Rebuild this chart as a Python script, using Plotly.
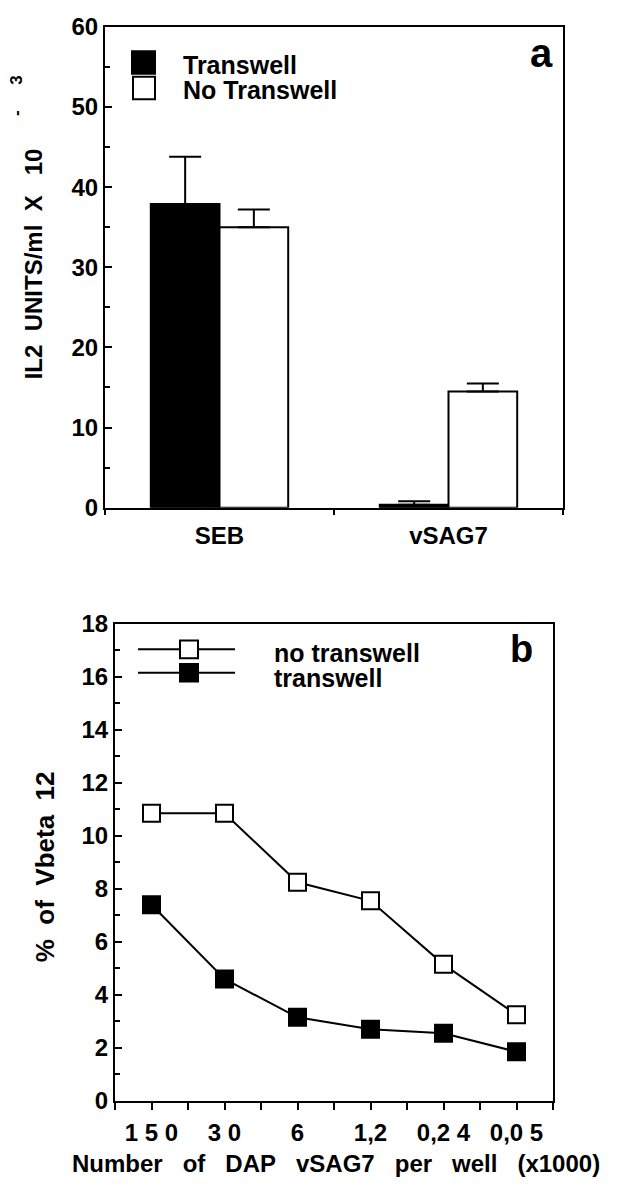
import plotly.graph_objects as go

# page has an 8px body margin, so the figure is sized to fit the window exactly
PAGE_W, PAGE_H = 627, 1199
OFF = 8
W, H = PAGE_W - 2 * OFF, PAGE_H - 2 * OFF
FONT = "Liberation Sans"

# panel a data
groups = ["SEB", "vSAG7"]
transwell_il2 = [37.9, 0.35]
transwell_err = [5.9, 0.45]
no_transwell_il2 = [35.0, 14.5]
no_transwell_err = [2.2, 1.0]

# panel b data
dap_labels = ["1 5 0", "3 0", "6", "1,2", "0,2 4", "0,0 5"]
dap_pos = [0, 1, 2, 3, 4, 5]
vbeta_no_transwell = [10.85, 10.85, 8.25, 7.55, 5.15, 3.25]
vbeta_transwell = [7.4, 4.6, 3.15, 2.7, 2.55, 1.85]


def px(x):
    return (x - OFF) / W


def py(y):
    return 1 - (y - OFF) / H


def bold(size):
    return dict(family=FONT, size=size, color="black", weight="bold")


fig = go.Figure()

# --- panel a ---
fig.add_trace(go.Bar(
    x=groups, y=transwell_il2, name="Transwell",
    marker=dict(color="black", line=dict(color="black", width=2)),
    error_y=dict(type="data", array=transwell_err, arrayminus=[0, 0], symmetric=False,
                 color="black", thickness=2, width=16),
    xaxis="x", yaxis="y",
))
fig.add_trace(go.Bar(
    x=groups, y=no_transwell_il2, name="No Transwell",
    marker=dict(color="white", line=dict(color="black", width=2)),
    error_y=dict(type="data", array=no_transwell_err, arrayminus=[0, 0], symmetric=False,
                 color="black", thickness=2, width=16),
    xaxis="x", yaxis="y",
))

# --- panel b ---
fig.add_trace(go.Scatter(
    x=dap_pos, y=vbeta_no_transwell, mode="lines+markers", name="no transwell",
    line=dict(color="black", width=2),
    marker=dict(symbol="square", size=17, color="white", line=dict(color="black", width=2)),
    xaxis="x2", yaxis="y2", cliponaxis=False,
))
fig.add_trace(go.Scatter(
    x=dap_pos, y=vbeta_transwell, mode="lines+markers", name="transwell",
    line=dict(color="black", width=2),
    marker=dict(symbol="square", size=17, color="black", line=dict(color="black", width=2)),
    xaxis="x2", yaxis="y2", cliponaxis=False,
))

axis_common = dict(showline=True, linecolor="black", linewidth=2, mirror=True,
                   showgrid=False, zeroline=False, tickcolor="black", tickwidth=2,
                   tickfont=bold(24))

fig.update_layout(
    width=W, height=H,
    margin=dict(l=0, r=0, t=0, b=0),
    paper_bgcolor="white", plot_bgcolor="white",
    showlegend=False,
    barmode="group", bargap=0.4, bargroupgap=0,
    xaxis=dict(domain=[px(105), px(563)], anchor="y", type="category",
               range=[-0.5, 1.5], tickson="boundaries", ticks="outside", ticklen=5,
               ticklabelstandoff=6, **axis_common),
    yaxis=dict(domain=[py(505), py(13)], anchor="x", range=[0, 60],
               tickvals=[0, 10, 20, 30, 40, 50, 60], ticks="inside", ticklen=7,
               minor=dict(dtick=5, ticks="inside", ticklen=5, tickcolor="black", tickwidth=2),
               **axis_common),
    xaxis2=dict(domain=[px(115), px(553)], anchor="y2", range=[-0.5, 5.5],
                tickvals=dap_pos, ticktext=dap_labels, ticks="outside", ticklen=7,
                minor=dict(tick0=0.5, dtick=1, ticks="outside", ticklen=7,
                           tickcolor="black", tickwidth=2),
                ticklabelstandoff=2, **axis_common),
    yaxis2=dict(domain=[py(1112), py(624)], anchor="x2", range=[0, 18],
                tickvals=list(range(0, 19, 2)), ticks="inside", ticklen=7,
                minor=dict(dtick=1, ticks="inside", ticklen=5, tickcolor="black", tickwidth=2),
                **axis_common),
)

shapes = []
annotations = []


def note(text, x, y, size, anchor="center", angle=0):
    annotations.append(dict(text=text, xref="paper", yref="paper", x=px(x), y=py(y),
                            xanchor=anchor, yanchor="middle", showarrow=False,
                            textangle=angle, font=bold(size)))


# legend a
shapes.append(dict(type="rect", xref="paper", yref="paper",
                   x0=px(132), x1=px(155), y0=py(61), y1=py(38),
                   fillcolor="black", line=dict(color="black", width=2)))
shapes.append(dict(type="rect", xref="paper", yref="paper",
                   x0=px(133), x1=px(155), y0=py(87), y1=py(64),
                   fillcolor="white", line=dict(color="black", width=2)))
note("Transwell", 181, 52, 25, "left")
note("No Transwell", 181, 78, 25, "left")

# legend b
for yy, fill in [(650, "white"), (674, "black")]:
    shapes.append(dict(type="line", xref="paper", yref="paper",
                       x0=px(138), x1=px(235), y0=py(yy), y1=py(yy),
                       line=dict(color="black", width=2)))
    shapes.append(dict(type="rect", xref="paper", yref="paper",
                       x0=px(180), x1=px(198), y0=py(yy + 9), y1=py(yy - 9),
                       fillcolor=fill, line=dict(color="black", width=2)))
note("no transwell", 272, 654, 25, "left")
note("transwell", 272, 679, 25, "left")

# panel letters
note("a", 541, 40, 40)
note("b", 521, 650, 38)

# axis titles
nb = "\u00a0"
note("IL2" + nb * 2 + "UNITS/ml" + nb * 2 + "X" + nb * 3 + "10", 33, 256, 24, angle=-90)
note("-", 17, 101, 17, angle=-90)
note("3", 17, 68, 17, angle=-90)
note("%" + nb * 2 + "of" + nb * 2 + "Vbeta" + nb * 2 + "12", 45, 873, 26, angle=-90)
sp3 = nb * 3
note("Number" + sp3 + "of" + sp3 + "DAP" + sp3 + "vSAG7" + sp3 + "per" + sp3 + "well" + sp3 + "(x1000)",
     336, 1176, 24)

fig.update_layout(shapes=shapes, annotations=annotations)

fig.write_html("out.html")
